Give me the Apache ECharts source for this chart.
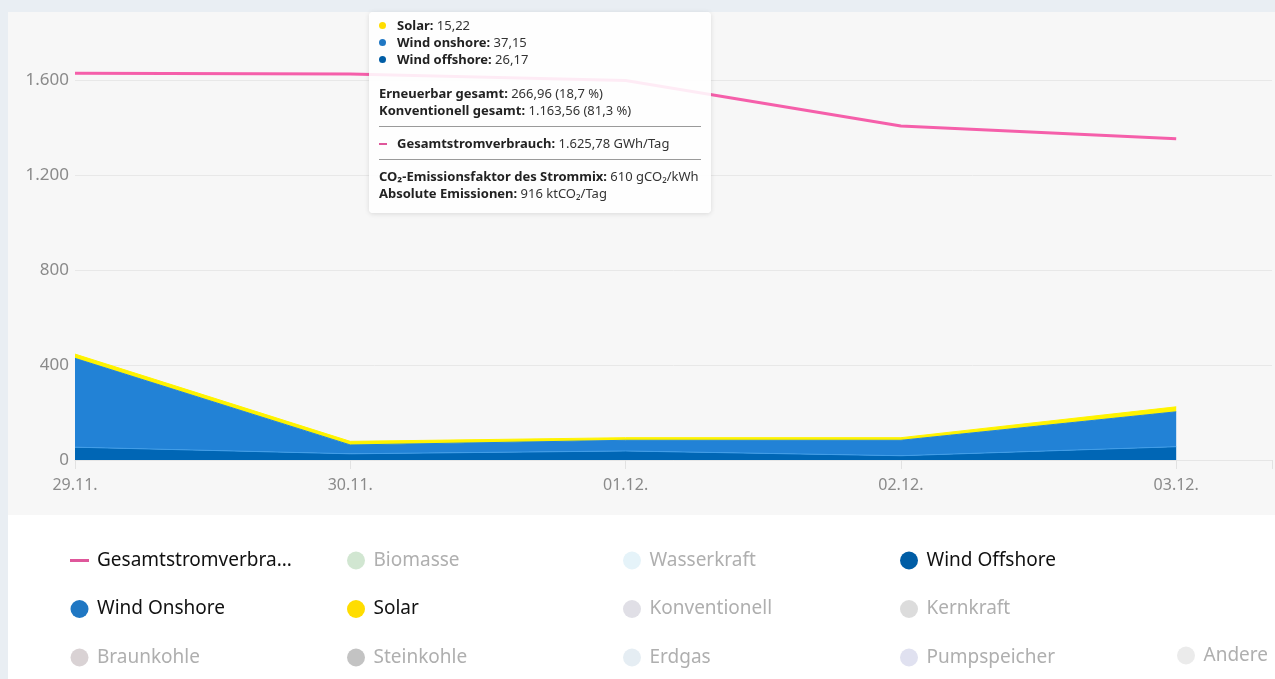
<!DOCTYPE html>
<html>
<head>
<meta charset="utf-8">
<script src="https://cdn.jsdelivr.net/npm/echarts@6/dist/echarts.min.js"></script>
<style>
  html, body { margin:0; padding:0; width:1275px; height:679px; overflow:hidden; background:#e9eef3; font-family:"Noto Sans", sans-serif; }
  #panel { position:absolute; left:8px; top:12px; width:1267px; height:503px; background:#f7f7f7; }
  #white { position:absolute; left:8px; top:515px; width:1267px; height:164px; background:#ffffff; }
  #chart { position:absolute; left:0; top:0; width:1275px; height:679px; }
</style>
</head>
<body>
<div id="panel"></div>
<div id="white"></div>
<div id="chart"></div>
<script>
// ---- data ----
const categories = ['29.11.', '30.11.', '01.12.', '02.12.', '03.12.'];
const gesamtstromverbrauch = [1628, 1625.78, 1598, 1406, 1353];
const windOffshore = [54, 26.17, 38, 18, 56];
const windOnshore = [374, 37.15, 45, 65, 147];
const solar = [18, 15.22, 11, 11, 21];
// tooltip extras for 30.11.
const tipIndex = 1;
const tipErneuerbar = '266,96 (18,7 %)';
const tipKonventionell = '1.163,56 (81,3 %)';
const tipCo2Faktor = '610';
const tipEmissionen = '916';

const legendCols = [
  ['Gesamtstromverbrauch', 'Wind Onshore', 'Braunkohle'],
  ['Biomasse', 'Solar', 'Steinkohle'],
  ['Wasserkraft', 'Konventionell', 'Erdgas'],
  ['Wind Offshore', 'Kernkraft', 'Pumpspeicher'],
  ['Andere']
];
const inactiveNames = ['Biomasse', 'Wasserkraft', 'Konventionell', 'Kernkraft', 'Braunkohle', 'Steinkohle', 'Erdgas', 'Pumpspeicher', 'Andere'];
const inactiveColors = ['#c6e0c6', '#def0f8', '#d8d7e0', '#d3d3d3', '#cfc7c9', '#b4b4b4', '#dfe8f0', '#d8d9ec', '#e6e6e6'];

const COL_PINK = '#df579b', COL_ON = '#1f77c3', COL_OFF = '#005da5', COL_SOLAR = '#ffdd00';

function fmtDE(v, dec) {
  const s = v.toFixed(dec);
  const parts = s.split('.');
  parts[0] = parts[0].replace(/\B(?=(\d{3})+(?!\d))/g, '.');
  return parts.join(',');
}
// value first, position second (so stacking happens on the value dimension)
function pairs(arr) { return arr.map((v, i) => [v, i]); }

const chart = echarts.init(document.getElementById('chart'));

const dot = c => '<span style="display:inline-block;width:7px;height:7px;border-radius:50%;background:' + c + ';margin-right:11px;vertical-align:middle;position:relative;top:-1px"></span>';
const dash = c => '<span style="display:inline-block;width:8px;height:2px;background:' + c + ';margin-right:10px;vertical-align:middle;position:relative;top:-1px"></span>';
const hr = '<div style="border-top:1px solid #9a9a9a;margin:7px 0 8px 0"></div>';

function tipHtml(i) {
  return '<div style="font-family:\'Noto Sans\',sans-serif;font-size:13px;line-height:17px;color:#333;width:322px;white-space:nowrap">' +
    '<div>' + dot(COL_SOLAR) + '<b style="color:#222">Solar:</b> ' + fmtDE(solar[i], 2) + '</div>' +
    '<div>' + dot(COL_ON) + '<b style="color:#222">Wind onshore:</b> ' + fmtDE(windOnshore[i], 2) + '</div>' +
    '<div>' + dot(COL_OFF) + '<b style="color:#222">Wind offshore:</b> ' + fmtDE(windOffshore[i], 2) + '</div>' +
    '<div style="height:17px"></div>' +
    '<div><b style="color:#222">Erneuerbar gesamt:</b> ' + tipErneuerbar + '</div>' +
    '<div><b style="color:#222">Konventionell gesamt:</b> ' + tipKonventionell + '</div>' +
    hr +
    '<div>' + dash(COL_PINK) + '<b style="color:#222">Gesamtstromverbrauch:</b> ' + fmtDE(gesamtstromverbrauch[i], 2) + ' GWh/Tag</div>' +
    hr +
    '<div><b style="color:#222">CO₂-Emissionsfaktor des Strommix:</b> ' + tipCo2Faktor + ' gCO₂/kWh</div>' +
    '<div><b style="color:#222">Absolute Emissionen:</b> ' + tipEmissionen + ' ktCO₂/Tag</div>' +
    '</div>';
}

const legends = legendCols.map((col, ci) => ({
  orient: 'vertical',
  left: [70, 347, 623, 900, 1177][ci],
  top: ci === 4 ? 646 : 551,
  padding: 0,
  itemWidth: 19,
  itemHeight: 18,
  itemGap: 29.5,
  selectedMode: false,
  textStyle: { fontFamily: 'Noto Sans', fontSize: 19, color: '#111111', padding: [0, 0, 0, 3] },
  formatter: n => n === 'Gesamtstromverbrauch' ? 'Gesamtstromverbra...' : n,
  data: col.map(n => {
    const inactive = inactiveNames.includes(n);
    const o = { name: n };
    o.icon = n === 'Gesamtstromverbrauch' ? 'path://M0,0H19V3H0Z' : 'circle';
    if (inactive) o.textStyle = { color: '#afafaf' };
    return o;
  })
}));

const enc = { x: 1, y: 0 };
const series = [
  {
    name: 'Gesamtstromverbrauch', type: 'line', data: pairs(gesamtstromverbrauch), encode: enc,
    symbol: 'none', clip: false, z: 5,
    lineStyle: { color: COL_PINK, width: 3 }, itemStyle: { color: COL_PINK }
  },
  {
    name: 'Wind Offshore', type: 'line', stack: 'mix', data: pairs(windOffshore), encode: enc, symbol: 'none',
    lineStyle: { color: '#3b8fd3', width: 1 }, itemStyle: { color: COL_OFF },
    areaStyle: { color: COL_OFF, opacity: 1 }
  },
  {
    name: 'Wind Onshore', type: 'line', stack: 'mix', data: pairs(windOnshore), encode: enc, symbol: 'none',
    lineStyle: { color: COL_ON, width: 1 }, itemStyle: { color: COL_ON },
    areaStyle: { color: COL_ON, opacity: 1 }
  },
  {
    name: 'Solar', type: 'line', stack: 'mix', data: pairs(solar), encode: enc, symbol: 'none',
    lineStyle: { color: COL_SOLAR, width: 1 }, itemStyle: { color: COL_SOLAR },
    areaStyle: { color: COL_SOLAR, opacity: 1 }
  }
].concat(inactiveNames.map((n, k) => ({
  name: n, type: 'scatter', data: [], itemStyle: { color: inactiveColors[k] }
})));

chart.setOption({
  animation: false,
  grid: { left: 75, right: 0, top: 80, bottom: 219, containLabel: false },
  xAxis: {
    type: 'value', min: 0, max: 4.348, interval: 1,
    axisLine: { show: true, lineStyle: { color: '#e6e6e6', width: 1 } },
    axisTick: { show: true, length: 9, lineStyle: { color: '#e2e2e2' } },
    splitLine: { show: false },
    axisLabel: {
      margin: 17, color: '#8a8a8a', fontFamily: 'Noto Sans', fontSize: 16,
      formatter: v => (Number.isInteger(v) && categories[v]) ? categories[v] : ''
    }
  },
  yAxis: {
    type: 'value', min: 0, max: 1600, interval: 400,
    axisLine: { show: false }, axisTick: { show: false },
    splitLine: { lineStyle: { color: '#e8e8e8', width: 1 } },
    axisLabel: {
      margin: 6, color: '#8a8a8a', fontFamily: 'Noto Sans', fontSize: 17,
      formatter: v => fmtDE(v, 0)
    }
  },
  tooltip: {
    trigger: 'axis', triggerOn: 'none', alwaysShowContent: true, transitionDuration: 0,
    axisPointer: { type: 'none' },
    backgroundColor: 'rgba(255,255,255,0.88)', borderWidth: 0, padding: [5, 10, 11, 10],
    extraCssText: 'box-shadow:0 1px 5px rgba(0,0,0,0.12);border-radius:4px;',
    position: () => [369, 12],
    formatter: () => tipHtml(tipIndex)
  },
  legend: legends,
  series: series
});
const tipX = chart.convertToPixel({ xAxisIndex: 0 }, tipIndex);
chart.dispatchAction({ type: 'showTip', x: tipX, y: 300 });
</script>
</body>
</html>
